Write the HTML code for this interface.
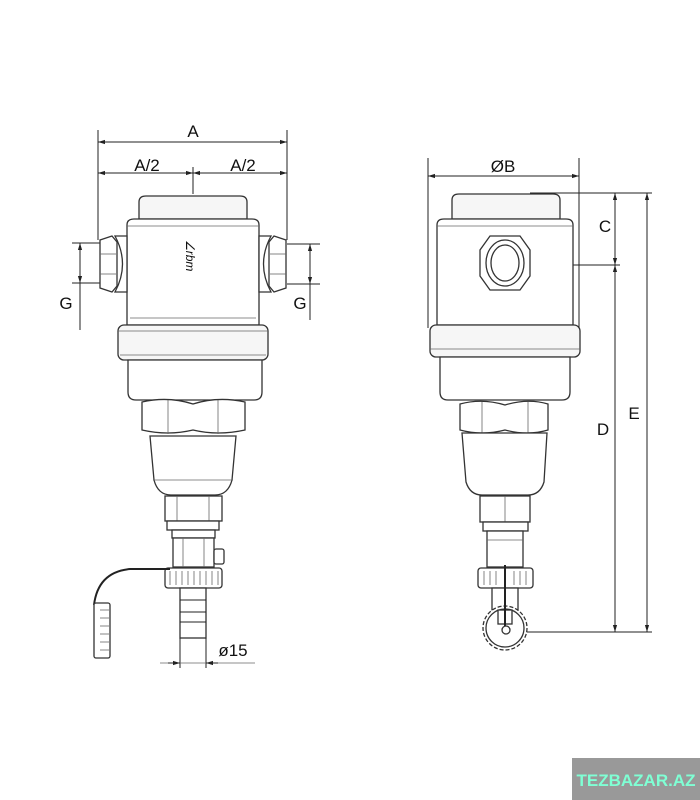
<!DOCTYPE html>
<html><head><style>
html,body{margin:0;padding:0;background:#fff;width:700px;height:800px;overflow:hidden}
svg{display:block}
text{font-family:"Liberation Sans",sans-serif;fill:#111}
.s{fill:#fff;stroke:#333;stroke-width:1.3}
.g{fill:#f6f6f6;stroke:#333;stroke-width:1.3}
.l{fill:none;stroke:#222;stroke-width:1}
.t{fill:none;stroke:#666;stroke-width:0.8}
</style></head><body>
<svg width="700" height="800" viewBox="0 0 700 800">
<defs>
<marker id="a" viewBox="0 0 10 10" refX="10" refY="5" markerWidth="7" markerHeight="7" orient="auto-start-reverse"><path d="M0,2 L10,5 L0,8 z" fill="#222"/></marker>
</defs>

<!-- LEFT VIEW dimensions -->
<line class="l" x1="98" y1="130" x2="98" y2="240"/>
<line class="l" x1="287" y1="130" x2="287" y2="240"/>
<line class="l" x1="98" y1="142" x2="287" y2="142" marker-start="url(#a)" marker-end="url(#a)"/>
<text x="193" y="137" font-size="17" text-anchor="middle">A</text>
<line class="l" x1="98" y1="173" x2="193" y2="173" marker-start="url(#a)" marker-end="url(#a)"/>
<line class="l" x1="193" y1="173" x2="287" y2="173" marker-start="url(#a)" marker-end="url(#a)"/>
<line class="l" x1="193" y1="167" x2="193" y2="194"/>
<text x="147" y="171" font-size="17" text-anchor="middle">A/2</text>
<text x="243" y="171" font-size="17" text-anchor="middle">A/2</text>
<!-- G left -->
<line class="l" x1="72" y1="243" x2="100" y2="243"/>
<line class="l" x1="72" y1="283" x2="100" y2="283"/>
<line class="l" x1="80" y1="243" x2="80" y2="283" marker-start="url(#a)" marker-end="url(#a)"/>
<line class="l" x1="80" y1="283" x2="80" y2="330"/>
<text x="66" y="309" font-size="17" text-anchor="middle">G</text>
<!-- G right -->
<line class="l" x1="287" y1="244" x2="320" y2="244"/>
<line class="l" x1="287" y1="284" x2="320" y2="284"/>
<line class="l" x1="310" y1="244" x2="310" y2="284" marker-start="url(#a)" marker-end="url(#a)"/>
<line class="l" x1="310" y1="284" x2="310" y2="320"/>
<text x="300" y="309" font-size="17" text-anchor="middle">G</text>

<!-- LEFT VIEW body -->
<path class="g" d="M139,219 L139,202 Q139,196 146,196 L240,196 Q247,196 247,202 L247,219 Z"/>
<path class="s" d="M127,325 L127,225 Q127,219 134,219 L252,219 Q259,219 259,225 L259,325 Z"/>
<line class="t" x1="127" y1="226" x2="259" y2="226"/>
<line class="t" x1="130" y1="318" x2="256" y2="318"/>
<!-- side rings and nuts -->
<path class="s" d="M115,236 Q130,264 115,292 L127,292 L127,236 Z"/>
<path class="s" d="M271,236 Q256,264 271,292 L259,292 L259,236 Z"/>
<path class="s" d="M100,240 L112,236 L117,242 L117,286 L112,292 L100,288 Z"/>
<path class="s" d="M286,240 L274,236 L269,242 L269,286 L274,292 L286,288 Z"/>
<line class="t" x1="100" y1="254" x2="116" y2="254"/><line class="t" x1="100" y1="274" x2="116" y2="274"/>
<line class="t" x1="270" y1="254" x2="286" y2="254"/><line class="t" x1="270" y1="274" x2="286" y2="274"/>
<text x="0" y="0" font-size="12" fill="#666" transform="translate(186,240) rotate(90)" font-style="italic">∠rbm</text>
<!-- ring -->
<rect class="g" x="118" y="325" width="150" height="35" rx="6"/>
<line class="t" x1="118" y1="331" x2="268" y2="331"/>
<line class="t" x1="120" y1="355" x2="266" y2="355"/>
<path class="s" d="M128,360 L262,360 L262,392 Q262,400 254,400 L136,400 Q128,400 128,392 Z"/>
<!-- hex nut -->
<path class="s" d="M142,402 Q168,396 193,404 Q218,396 245,402 L245,430 Q218,436 193,430 Q168,436 142,430 Z"/>
<line class="t" x1="168" y1="400" x2="168" y2="434"/><line class="t" x1="218" y1="400" x2="218" y2="434"/>
<!-- cone -->
<path class="s" d="M150,436 L236,436 L232,480 Q228,495 215,495 L171,495 Q158,495 154,480 Z"/>
<line class="t" x1="153" y1="480" x2="233" y2="480"/>
<!-- small hex -->
<rect class="s" x="165" y="496" width="57" height="25"/>
<line class="t" x1="177" y1="496" x2="177" y2="521"/><line class="t" x1="209" y1="496" x2="209" y2="521"/>
<rect class="s" x="167" y="521" width="52" height="9"/>
<!-- valve -->
<rect class="s" x="172" y="530" width="43" height="8"/>
<rect class="s" x="173" y="538" width="41" height="29"/>
<line class="t" x1="183" y1="538" x2="183" y2="567"/><line class="t" x1="204" y1="538" x2="204" y2="567"/>
<rect class="s" x="214" y="549" width="10" height="15" rx="2"/>
<!-- knurl -->
<rect class="s" x="165" y="568" width="57" height="20" rx="3"/>
<g class="t"><line x1="170" y1="571" x2="170" y2="585"/><line x1="176" y1="571" x2="176" y2="585"/><line x1="182" y1="571" x2="182" y2="585"/><line x1="188" y1="571" x2="188" y2="585"/><line x1="194" y1="571" x2="194" y2="585"/><line x1="200" y1="571" x2="200" y2="585"/><line x1="206" y1="571" x2="206" y2="585"/><line x1="212" y1="571" x2="212" y2="585"/><line x1="218" y1="571" x2="218" y2="585"/></g>
<!-- hose barb -->
<rect class="s" x="180" y="588" width="26" height="50"/>
<line class="l" x1="180" y1="600" x2="206" y2="600"/><line class="l" x1="180" y1="612" x2="206" y2="612"/><line class="l" x1="180" y1="622" x2="206" y2="622"/>
<line class="l" x1="180" y1="638" x2="180" y2="668"/><line class="l" x1="206" y1="638" x2="206" y2="668"/>
<line class="t" x1="160" y1="663" x2="255" y2="663"/>
<line class="l" x1="168" y1="663" x2="180" y2="663" marker-end="url(#a)"/>
<line class="l" x1="218" y1="663" x2="206" y2="663" marker-end="url(#a)"/>
<text x="233" y="656" font-size="17" text-anchor="middle">ø15</text>
<!-- cord and cap -->
<path d="M170,569 L130,569 Q98,572 94,605" fill="none" stroke="#222" stroke-width="2"/>
<rect class="s" x="94" y="603" width="16" height="55" rx="2"/>
<g class="t"><line x1="100" y1="610" x2="109" y2="610"/><line x1="100" y1="618" x2="109" y2="618"/><line x1="100" y1="626" x2="109" y2="626"/><line x1="100" y1="634" x2="109" y2="634"/><line x1="100" y1="642" x2="109" y2="642"/><line x1="100" y1="650" x2="109" y2="650"/></g>

<!-- RIGHT VIEW dimensions -->
<line class="l" x1="428" y1="158" x2="428" y2="328"/>
<line class="l" x1="579" y1="158" x2="579" y2="328"/>
<line class="l" x1="428" y1="176" x2="579" y2="176" marker-start="url(#a)" marker-end="url(#a)"/>
<text x="503" y="172" font-size="17" text-anchor="middle">ØB</text>
<line class="l" x1="530" y1="193" x2="652" y2="193"/>
<line class="l" x1="540" y1="265" x2="620" y2="265"/>
<line class="l" x1="505" y1="632" x2="652" y2="632"/>
<line class="l" x1="615" y1="193" x2="615" y2="265" marker-start="url(#a)" marker-end="url(#a)"/>
<line class="l" x1="615" y1="265" x2="615" y2="632" marker-start="url(#a)" marker-end="url(#a)"/>
<line class="l" x1="647" y1="193" x2="647" y2="632" marker-start="url(#a)" marker-end="url(#a)"/>
<text x="605" y="232" font-size="17" text-anchor="middle">C</text>
<text x="603" y="435" font-size="17" text-anchor="middle">D</text>
<text x="634" y="419" font-size="17" text-anchor="middle">E</text>

<!-- RIGHT VIEW body -->
<path class="g" d="M452,219 L452,200 Q452,194 459,194 L553,194 Q560,194 560,200 L560,219 Z"/>
<path class="s" d="M437,325 L437,225 Q437,219 444,219 L566,219 Q573,219 573,225 L573,325 Z"/>
<line class="t" x1="437" y1="226" x2="573" y2="226"/>
<path class="s" d="M490,236 L520,236 L530,250 L530,276 L520,290 L490,290 L480,276 L480,250 Z"/>
<ellipse class="s" cx="505" cy="263" rx="19" ry="23"/>
<ellipse class="s" cx="505" cy="263" rx="14" ry="18"/>
<rect class="g" x="430" y="325" width="150" height="32" rx="6"/>
<line class="t" x1="430" y1="349" x2="580" y2="349"/>
<path class="s" d="M440,357 L570,357 L570,392 Q570,400 562,400 L448,400 Q440,400 440,392 Z"/>
<path class="s" d="M460,404 Q482,398 505,405 Q528,398 548,404 L548,430 Q528,436 505,430 Q482,436 460,430 Z"/>
<line class="t" x1="482" y1="402" x2="482" y2="433"/><line class="t" x1="528" y1="402" x2="528" y2="433"/>
<path class="s" d="M462,433 L547,433 L544,482 Q540,495 528,495 L482,495 Q470,495 466,482 Z"/>
<rect class="s" x="480" y="496" width="50" height="26"/>
<line class="t" x1="505" y1="496" x2="505" y2="522"/>
<rect class="s" x="483" y="522" width="45" height="9"/>
<rect class="s" x="487" y="531" width="36" height="36"/>
<line class="t" x1="487" y1="540" x2="523" y2="540"/>
<rect class="s" x="478" y="568" width="55" height="20" rx="3"/>
<g class="t"><line x1="484" y1="571" x2="484" y2="585"/><line x1="490" y1="571" x2="490" y2="585"/><line x1="496" y1="571" x2="496" y2="585"/><line x1="514" y1="571" x2="514" y2="585"/><line x1="520" y1="571" x2="520" y2="585"/><line x1="526" y1="571" x2="526" y2="585"/></g>
<rect class="s" x="492" y="588" width="26" height="22"/>
<circle cx="505" cy="628" r="22" fill="#fff" stroke="#333" stroke-width="1.3" stroke-dasharray="4 2"/>
<circle class="s" cx="505" cy="628" r="19"/>
<rect class="s" x="498" y="610" width="14" height="14"/>
<line x1="505" y1="565" x2="505" y2="632" stroke="#222" stroke-width="2"/>
<circle class="s" cx="506" cy="630" r="4"/>

<!-- watermark -->
<rect x="572" y="758" width="128" height="42" fill="#999"/>
<text x="636" y="786" font-size="17" font-weight="bold" text-anchor="middle" style="fill:#7fffd4">TEZBAZAR.AZ</text>
</svg>
</body></html>
